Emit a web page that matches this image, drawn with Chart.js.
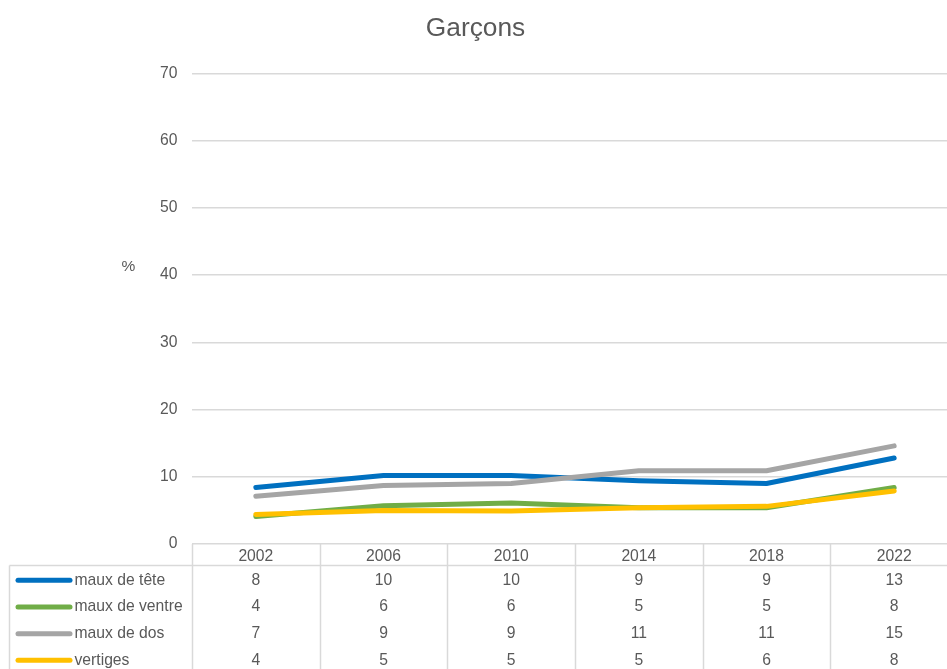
<!DOCTYPE html>
<html>
<head>
<meta charset="utf-8">
<script src="https://cdn.jsdelivr.net/npm/chart.js@4/dist/chart.umd.min.js"></script>
<style>
html,body{margin:0;padding:0;overflow:hidden;background:#fff;width:947px;height:669px;}
#wrap{position:absolute;left:0;top:0;width:958px;height:669px;}
</style>
</head>
<body>
<div id="wrap"><canvas id="c" width="958" height="669"></canvas></div>
<script>
const title = "Garçons";
const yAxisLabel = "%";
const years = ["2002","2006","2010","2014","2018","2022"];
const seriesNames = ["maux de tête","maux de ventre","maux de dos","vertiges"];
const mauxDeTete   = [8.4, 10.2, 10.2, 9.4, 9.0, 12.8];
const mauxDeVentre = [4.1, 5.7, 6.1, 5.4, 5.4, 8.4];
const mauxDeDos    = [7.1, 8.7, 9.0, 10.9, 10.9, 14.6];
const vertiges     = [4.4, 5.0, 4.9, 5.4, 5.6, 7.9];
const yTicks = [0,10,20,30,40,50,60,70];
const colors = ["#0070C0","#70AD47","#A5A5A5","#FFC000"];

const FONT = "'Liberation Sans', Arial, sans-serif";
const TXT = "#595959";
const GRID = "#D9D9D9";
const allSeries = [mauxDeTete, mauxDeVentre, mauxDeDos, vertiges];

const tablePlugin = {
  id: 'tablePlugin',
  afterDraw(chart) {
    const ctx = chart.ctx;
    const xs = chart.scales.x;
    const area = chart.chartArea;
    const top = area.bottom;          // table top = zero line
    const headerBottom = top + 21.5;
    const rowH = 26.67;
    const firstRowCenter = top + 36.3;
    const bottom = 669;
    const legendLeft = 9.5;
    const colW = (area.right - area.left) / years.length;
    ctx.save();
    ctx.strokeStyle = GRID;
    ctx.lineWidth = 1.5;
    ctx.beginPath();
    ctx.moveTo(legendLeft, headerBottom);
    ctx.lineTo(area.right, headerBottom);
    ctx.stroke();
    ctx.beginPath();
    ctx.moveTo(legendLeft, headerBottom);
    ctx.lineTo(legendLeft, bottom);
    for (let i = 0; i <= years.length; i++) {
      const x = Math.round(area.left + i * colW) + 0.5;
      ctx.moveTo(x, top);
      ctx.lineTo(x, bottom);
    }
    ctx.stroke();
    ctx.fillStyle = TXT;
    ctx.font = "15.7px " + FONT;
    ctx.textAlign = "center";
    ctx.textBaseline = "middle";
    years.forEach((y, i) => {
      ctx.fillText(y, xs.getPixelForValue(i), top + 12.5);
    });
    seriesNames.forEach((name, r) => {
      const cy = firstRowCenter + r * rowH;
      ctx.strokeStyle = colors[r];
      ctx.lineWidth = 5;
      ctx.lineCap = "round";
      ctx.beginPath();
      ctx.moveTo(18, cy);
      ctx.lineTo(70, cy);
      ctx.stroke();
      ctx.textAlign = "left";
      ctx.fillStyle = TXT;
      ctx.fillText(name, 74.5, cy);
      ctx.textAlign = "center";
      allSeries[r].forEach((v, i) => {
        ctx.fillText(String(Math.round(v)), xs.getPixelForValue(i), cy);
      });
    });
    ctx.font = "26.3px " + FONT;
    ctx.textBaseline = "alphabetic";
    ctx.textAlign = "center";
    ctx.fillText(title, 475.5, 35.5);
    ctx.font = "15.5px " + FONT;
    ctx.textBaseline = "middle";
    ctx.fillText(yAxisLabel, 128.5, 267);
    ctx.restore();
  }
};

new Chart(document.getElementById('c'), {
  type: 'line',
  data: {
    labels: years,
    datasets: allSeries.map((d, i) => ({
      label: seriesNames[i],
      data: d,
      order: allSeries.length - i,
      borderColor: colors[i],
      backgroundColor: colors[i],
      borderWidth: 5,
      pointRadius: 0,
      tension: 0,
      borderCapStyle: 'round',
      borderJoinStyle: 'round'
    }))
  },
  options: {
    responsive: false,
    animation: false,
    events: [],
    layout: { padding: { top: 73.5, bottom: 125, left: 0, right: 0 } },
    plugins: { legend: { display: false }, title: { display: false }, tooltip: { enabled: false } },
    scales: {
      x: {
        type: 'category',
        offset: true,
        display: false
      },
      y: {
        min: 0, max: 70,
        afterBuildTicks: s => { s.ticks = yTicks.map(v => ({ value: v })); },
        afterFit: s => { s.width = 192; },
        border: { display: false },
        grid: { color: GRID, lineWidth: 1.5, drawTicks: false },
        ticks: { color: TXT, font: { family: FONT, size: 15.7 }, padding: 14.5 }
      }
    }
  },
  plugins: [tablePlugin]
});
</script>
</body>
</html>
